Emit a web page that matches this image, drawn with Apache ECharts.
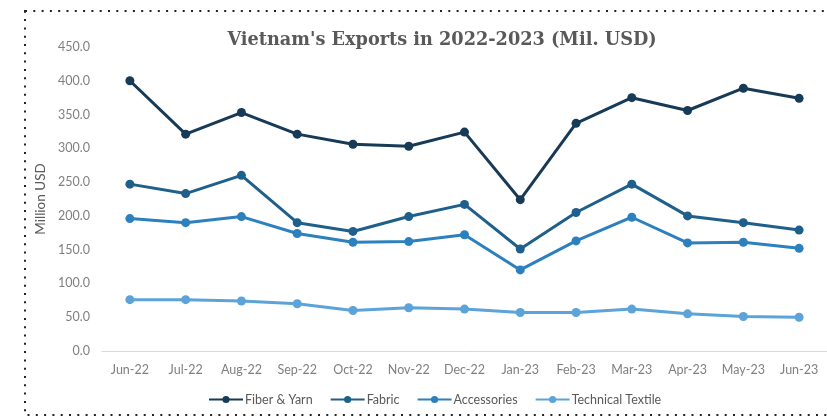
<!DOCTYPE html>
<html>
<head>
<meta charset="utf-8">
<script src="https://cdn.jsdelivr.net/npm/echarts@6/dist/echarts.min.js"></script>
<style>
  html, body { margin: 0; padding: 0; background: #fff; }
  #chart { width: 827px; height: 416px; }
</style>
</head>
<body>
<div id="chart"></div>
<script>
// Monthly export values, Jun-2022 to Jun-2023 (million USD)
const months = ['Jun-22', 'Jul-22', 'Aug-22', 'Sep-22', 'Oct-22', 'Nov-22', 'Dec-22',
                'Jan-23', 'Feb-23', 'Mar-23', 'Apr-23', 'May-23', 'Jun-23'];
const fiberYarn = [400, 321, 353, 321, 306, 303, 324, 224, 337, 375, 356, 389, 374];
const fabric = [247, 233, 260, 190, 177, 199, 217, 151, 205, 247, 200, 190, 179];
const accessories = [196, 190, 199, 174, 161, 162, 172, 120, 163, 198, 160, 161, 152];
const technicalTextile = [76, 76, 74, 70, 60, 64, 62, 57, 57, 62, 55, 51, 50];
const yTicks = { min: 0, max: 450, interval: 50 };

const seriesNames = ['Fiber & Yarn', 'Fabric', 'Accessories', 'Technical Textile'];
const seriesData = [fiberYarn, fabric, accessories, technicalTextile];
const seriesColors = ['#173a57', '#1f5f8c', '#2c80bd', '#5ba3d9'];

const chart = echarts.init(document.getElementById('chart'), null, { renderer: 'canvas' });

const labelFont = 'Lato, "Open Sans", sans-serif';

chart.setOption({
  animation: false,
  backgroundColor: '#ffffff',
  title: {
    text: "Vietnam's Exports in 2022-2023 (Mil. USD)",
    left: 437,
    top: 26,
    textAlign: 'center',
    textStyle: {
      fontFamily: '"DejaVu Serif", serif',
      fontWeight: 'bold',
      fontSize: 17.7,
      color: '#595959'
    }
  },
  legend: {
    data: seriesNames,
    left: 203,
    top: 388,
    itemWidth: 34,
    itemHeight: 9,
    itemGap: 17,
    textStyle: { fontFamily: labelFont, fontSize: 12.5, color: '#595959', padding: [0, 0, 0, -3] }
  },
  grid: {
    left: 102,
    right: -10,
    top: 47,
    bottom: 65,
    containLabel: false
  },
  xAxis: {
    type: 'category',
    data: months,
    boundaryGap: true,
    axisLine: { show: true, lineStyle: { color: '#d9d9d9', width: 1 } },
    axisTick: { show: false },
    axisLabel: { fontFamily: labelFont, fontSize: 12.5, color: '#7f7f7f', margin: 12, interval: 0 }
  },
  yAxis: {
    type: 'value',
    min: yTicks.min,
    max: yTicks.max,
    interval: yTicks.interval,
    name: 'Million USD',
    nameLocation: 'middle',
    nameGap: 52,
    nameRotate: 90,
    nameTextStyle: { fontFamily: labelFont, fontSize: 13.5, color: '#595959' },
    axisLine: { show: false },
    axisTick: { show: false },
    splitLine: { show: false },
    axisLabel: {
      fontFamily: labelFont, fontSize: 12.5, color: '#7f7f7f', margin: 12,
      formatter: v => v.toFixed(1)
    }
  },
  series: seriesNames.map((name, i) => ({
    name: name,
    type: 'line',
    data: seriesData[i],
    symbol: 'circle',
    symbolSize: 9,
    showSymbol: true,
    lineStyle: { width: 3, color: seriesColors[i] },
    itemStyle: { color: seriesColors[i] },
    z: 10 - i
  })),
  graphic: [{
    type: 'rect',
    shape: { x: 25, y: 11, width: 900, height: 404 },
    style: { fill: 'none', stroke: '#222', lineWidth: 2, lineDash: [2, 6.3] },
    silent: true,
    z: -1
  }]
});
</script>
</body>
</html>
